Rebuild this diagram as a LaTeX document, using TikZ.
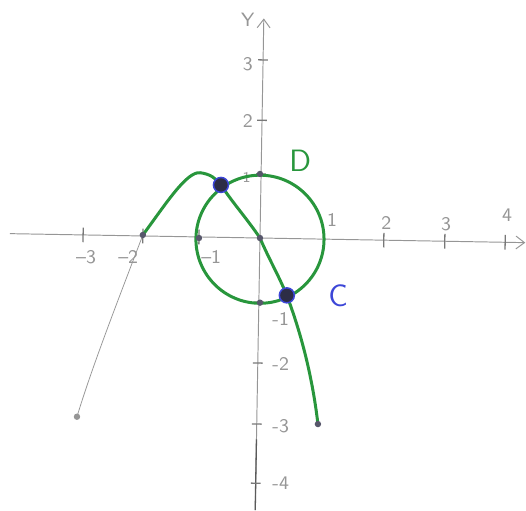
\documentclass[tikz,border=0pt]{standalone}
\usetikzlibrary{arrows.meta}
\definecolor{pencil}{RGB}{150,150,150}
\definecolor{marker}{RGB}{40,150,60}
\definecolor{inkblue}{RGB}{60,70,215}
\definecolor{dotdark}{RGB}{45,45,70}

\begin{document}
\begin{tikzpicture}[
  axis/.style={pencil, line width=0.45pt},
  tickmark/.style={pencil!80!black, line width=0.6pt},
  lbl/.style={pencil, font=\sffamily\small, inner sep=0pt},
  curve/.style={marker, line width=1.4pt, line cap=round, line join=round},
  ptdot/.style={circle, fill=dotdark!80, inner sep=0pt, minimum size=3pt},
  bigdot/.style={circle, fill=dotdark, draw=inkblue, line width=0.7pt, inner sep=0pt, minimum size=7pt},
]
\useasboundingbox (-4.262,-4.459) rectangle (4.361,3.902);

% axes (hand drawn, a little tilted)
\begin{scope}[rotate=-1]
  \draw[axis, -{Straight Barb[length=4pt,width=6pt]}] (-4.1,0) -- (4.35,0);
  \draw[axis, -{Straight Barb[length=4pt,width=6pt]}] (0,-4.46) -- (0,3.6);
  \draw[pencil!60!black, line width=0.6pt] (0,-3.3) -- (0,-4.46);
  \foreach \x in {-2.9,-1.92,-1.0,1.05,2.03,3.03,4.02}
    \draw[tickmark] (\x,-0.12) -- (\x,0.12);
  \foreach \y in {2.92,1.93,1.05,-1.05,-2.05,-3.05,-4.02}
    \draw[tickmark] (-0.08,\y) -- (0.08,\y);
\end{scope}

% axis labels
\node[lbl] (ly) at (-0.2,3.57) {Y};
\foreach \x/\t [count=\i] in {-2.85/-3,-2.16/-2,-0.8/-1}
  \node[lbl] (lxm\i) at (\x,-0.31) {-\t};
\foreach \x/\y/\t [count=\i] in {1.18/0.3/1,2.07/0.25/2,3.05/0.23/3,4.05/0.38/4}
  \node[lbl] (lx\i) at (\x,\y) {\t};
\foreach \y/\t [count=\i] in {2.85/3,1.92/2}
  \node[lbl] (ly\i) at (-0.2,\y) {\t};
\node[lbl, font=\sffamily\scriptsize] (ly0) at (-0.22,1.0) {1};
\foreach \y/\t [count=\i] in {-1.33/1,-2.07/2,-3.08/3,-4.02/4}
  \node[lbl] (lym\i) at (0.34,\y) {-\t};

% points of the curve
\coordinate (A) at (-1.92,0.05);
\coordinate (top) at (-0.98,1.07);
\coordinate (D) at (-0.64,0.87);
\coordinate (O) at (0,0);
\coordinate (C) at (0.44,-0.94);
\coordinate (E) at (0.95,-3.05);
\coordinate (F) at (-3.0,-2.93);

% pencil line
\draw[pencil, line width=0.35pt] (A) .. controls (-2.3,-0.95) and (-2.75,-2.1) .. (F);

% circle and curve
\draw[curve] (0,-0.02) circle[radius=1.05];
\draw[curve] (A) .. controls (-1.55,0.55) and (-1.2,1.1) .. (top)
  .. controls (-0.82,1.05) and (-0.72,0.98) .. (D)
  .. controls (-0.45,0.58) and (-0.2,0.3) .. (O)
  .. controls (0.15,-0.35) and (0.3,-0.6) .. (C)
  .. controls (0.65,-1.5) and (0.85,-2.2) .. (E);

% dots
\node[ptdot] (nA) at (A) {};
\node[ptdot] (nm1) at (-1.0,0.0) {};
\node[ptdot] (nO) at (O) {};
\node[ptdot] (n1) at (0,1.05) {};
\node[ptdot] (nm) at (0,-1.06) {};
\node[ptdot] (nE) at (E) {};
\node[ptdot, fill=pencil] (nF) at (F) {};
\node[bigdot] (nD) at (D) {};
\node[bigdot] (nC) at (C) {};

% names
\node[marker, font=\sffamily\Large] (labD) at (0.66,1.26) {D};
\node[inkblue, font=\sffamily\Large] (labC) at (1.28,-0.94) {C};
\end{tikzpicture}
\end{document}
